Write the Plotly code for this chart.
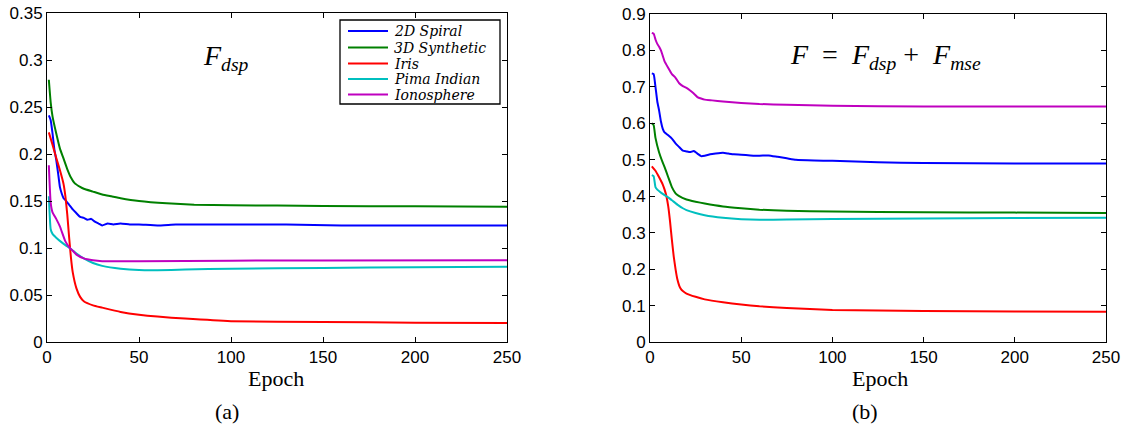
import plotly.graph_objects as go

# ---------------- Data ----------------
names = ["2D Spiral", "3D Synthetic", "Iris", "Pima Indian", "Ionosphere"]
colors = ["#0000FF", "#008000", "#FF0000", "#00BFBF", "#BF00BF"]

# Panel (a): F_dsp
a_spiral_x = [1, 2, 3, 4, 5, 6, 7, 8, 9, 10, 12, 14, 16, 18, 20, 22, 24, 26, 28, 30, 33, 36, 40, 45, 50, 60, 70, 80, 100, 130, 160, 200, 250]
a_spiral_y = [0.241, 0.236, 0.222, 0.205, 0.194, 0.180, 0.165, 0.158, 0.153, 0.151, 0.146, 0.141, 0.137, 0.133, 0.132, 0.130, 0.131, 0.128, 0.126, 0.124, 0.126, 0.125, 0.126, 0.125, 0.125, 0.124, 0.125, 0.125, 0.125, 0.125, 0.124, 0.124, 0.124]

a_synth_x = [1, 2, 3, 5, 7, 9, 11, 13, 15, 18, 20, 25, 30, 35, 40, 50, 65, 80, 100, 150, 200, 250]
a_synth_y = [0.279, 0.255, 0.240, 0.222, 0.206, 0.195, 0.184, 0.175, 0.169, 0.165, 0.163, 0.160, 0.157, 0.155, 0.153, 0.150, 0.1475, 0.146, 0.1455, 0.1448, 0.1443, 0.1439]

a_iris_x = [1, 3, 5, 7, 9, 10, 11, 12, 13, 14, 16, 18, 20, 25, 30, 40, 50, 60, 75, 100, 150, 200, 250]
a_iris_y = [0.223, 0.210, 0.196, 0.183, 0.168, 0.155, 0.136, 0.112, 0.090, 0.074, 0.057, 0.048, 0.0434, 0.039, 0.0366, 0.032, 0.029, 0.027, 0.0249, 0.0222, 0.0212, 0.0206, 0.0203]

a_pima_x = [1, 2, 3, 5, 8, 10, 13, 16, 20, 25, 30, 40, 50, 60, 75, 100, 150, 200, 250]
a_pima_y = [0.155, 0.120, 0.115, 0.111, 0.106, 0.103, 0.099, 0.094, 0.089, 0.084, 0.081, 0.078, 0.0765, 0.0763, 0.077, 0.078, 0.0788, 0.0795, 0.080]

a_iono_x = [1, 2, 3, 5, 7, 10, 12, 14, 16, 20, 25, 30, 50, 100, 150, 250]
a_iono_y = [0.188, 0.148, 0.138, 0.131, 0.123, 0.107, 0.101, 0.097, 0.093, 0.089, 0.087, 0.086, 0.086, 0.0865, 0.0868, 0.087]

# Panel (b): F = F_dsp + F_mse
b_spiral_x = [1, 2, 3, 4, 5, 6, 7, 8, 10, 12, 14, 16, 18, 20, 22, 24, 26, 28, 30, 33, 36, 40, 43, 46, 50, 55, 60, 65, 70, 75, 80, 90, 100, 125, 150, 200, 250]
b_spiral_y = [0.737, 0.735, 0.700, 0.660, 0.635, 0.605, 0.585, 0.575, 0.567, 0.558, 0.545, 0.535, 0.525, 0.523, 0.521, 0.524, 0.517, 0.510, 0.511, 0.515, 0.517, 0.519, 0.517, 0.515, 0.514, 0.512, 0.511, 0.512, 0.508, 0.504, 0.500, 0.498, 0.497, 0.493, 0.491, 0.490, 0.490]

b_synth_x = [1, 2, 3, 5, 7, 8, 10, 12, 14, 16, 20, 25, 30, 40, 50, 60, 75, 100, 150, 200, 250]
b_synth_y = [0.600, 0.595, 0.560, 0.520, 0.492, 0.480, 0.452, 0.425, 0.408, 0.400, 0.391, 0.385, 0.380, 0.372, 0.367, 0.363, 0.360, 0.358, 0.356, 0.355, 0.354]

b_iris_x = [1, 3, 5, 7, 8, 9, 10, 11, 12, 13, 14, 15, 16, 17, 18, 20, 25, 30, 40, 50, 60, 75, 100, 150, 200, 250]
b_iris_y = [0.482, 0.470, 0.452, 0.432, 0.418, 0.400, 0.372, 0.330, 0.280, 0.235, 0.200, 0.172, 0.155, 0.145, 0.140, 0.133, 0.124, 0.117, 0.109, 0.103, 0.098, 0.093, 0.088, 0.085, 0.0835, 0.083]

b_pima_x = [1, 2, 3, 4, 6, 8, 10, 12, 15, 18, 20, 25, 30, 40, 50, 60, 75, 100, 150, 200, 250]
b_pima_y = [0.458, 0.455, 0.425, 0.418, 0.410, 0.403, 0.397, 0.389, 0.377, 0.367, 0.362, 0.354, 0.348, 0.341, 0.337, 0.3355, 0.336, 0.3375, 0.339, 0.340, 0.341]

b_iono_x = [1, 2, 3, 4, 5, 6, 7, 8, 10, 12, 14, 16, 18, 20, 22, 24, 26, 28, 30, 34, 40, 50, 60, 75, 100, 150, 200, 250]
b_iono_y = [0.848, 0.846, 0.830, 0.818, 0.810, 0.800, 0.785, 0.770, 0.752, 0.735, 0.725, 0.710, 0.702, 0.697, 0.690, 0.682, 0.672, 0.668, 0.665, 0.663, 0.660, 0.656, 0.653, 0.651, 0.648, 0.646, 0.646, 0.646]

x_ticks = [0, 50, 100, 150, 200, 250]
a_y_ticks = [0, 0.05, 0.1, 0.15, 0.2, 0.25, 0.3, 0.35]
b_y_ticks = [0, 0.1, 0.2, 0.3, 0.4, 0.5, 0.6, 0.7, 0.8, 0.9]

# ---------------- Figure ----------------
W, H = 1128, 435
SERIF = "Liberation Serif, Times New Roman, serif"
LEG_SERIF = "DejaVu Serif, Liberation Serif, serif"
SANS = "Liberation Sans, Arial, sans-serif"

fig = go.Figure()

a_data = [(a_spiral_x, a_spiral_y), (a_synth_x, a_synth_y), (a_iris_x, a_iris_y),
          (a_pima_x, a_pima_y), (a_iono_x, a_iono_y)]
b_data = [(b_spiral_x, b_spiral_y), (b_synth_x, b_synth_y), (b_iris_x, b_iris_y),
          (b_pima_x, b_pima_y), (b_iono_x, b_iono_y)]

for (xs, ys), nm, c in zip(a_data, names, colors):
    fig.add_trace(go.Scatter(x=xs, y=ys, mode="lines", name=nm,
                             line=dict(color=c, width=2, shape="spline", smoothing=0.4),
                             xaxis="x", yaxis="y", showlegend=False))
for (xs, ys), nm, c in zip(b_data, names, colors):
    fig.add_trace(go.Scatter(x=xs, y=ys, mode="lines", name=nm,
                             line=dict(color=c, width=2, shape="spline", smoothing=0.4),
                             xaxis="x2", yaxis="y2", showlegend=False))

axis_common = dict(showline=True, linecolor="black", linewidth=1, mirror="ticks",
                   ticks="inside", ticklen=5, tickcolor="black", showgrid=False,
                   zeroline=False, automargin=False,
                   tickfont=dict(family=SANS, size=17, color="black"))

fig.update_layout(
    template="none",
    width=W, height=H,
    margin=dict(l=0, r=0, t=0, b=0, autoexpand=False),
    paper_bgcolor="white", plot_bgcolor="white",
    xaxis=dict(domain=[47 / W, 507 / W], range=[0, 250], tickvals=x_ticks,
               anchor="y", **axis_common),
    yaxis=dict(domain=[1 - 342 / H, 1 - 13 / H], range=[0, 0.35], tickvals=a_y_ticks,
               ticktext=[("%g" % v) for v in a_y_ticks], anchor="x", **axis_common),
    xaxis2=dict(domain=[650 / W, 1106 / W], range=[0, 250], tickvals=x_ticks,
                anchor="y2", **axis_common),
    yaxis2=dict(domain=[1 - 342 / H, 1 - 14 / H], range=[0, 0.9], tickvals=b_y_ticks,
                ticktext=[("%g" % v) for v in b_y_ticks], anchor="x2", **axis_common),
    showlegend=False,
)

def ann(text, xpx, ypx, size, xanchor="center", family=SERIF):
    fig.add_annotation(text=text, x=xpx / W, y=1 - ypx / H, xref="paper", yref="paper",
                       xanchor=xanchor, yanchor="middle", showarrow=False,
                       font=dict(family=family, size=size, color="black"))

# Legend box drawn in paper space (legend of panel (a))
lg_left, lg_right, lg_top, lg_bottom = 340, 500, 20, 104
fig.add_shape(type="rect", xref="paper", yref="paper",
              x0=lg_left / W, x1=lg_right / W, y0=1 - lg_bottom / H, y1=1 - lg_top / H,
              line=dict(color="black", width=1.3), fillcolor="white", layer="above")
row_y = [31, 47.5, 63.5, 79, 94.5]
for nm, c, ry in zip(names, colors, row_y):
    fig.add_shape(type="line", xref="paper", yref="paper",
                  x0=348 / W, x1=388 / W, y0=1 - ry / H, y1=1 - ry / H,
                  line=dict(color=c, width=2), layer="above")
    ann("<i>" + nm + "</i>", 392, ry, 14, xanchor="left", family=LEG_SERIF)

ann("<i>F</i><sub><i>dsp</i></sub>", 226, 58, 28)
ann("<i>F</i>&nbsp;&nbsp;=&nbsp;&nbsp;<i>F</i><sub><i>dsp</i></sub>&nbsp;+&nbsp;&nbsp;<i>F</i><sub><i>mse</i></sub>", 885, 56, 28)
ann("Epoch", 276, 378, 22)
ann("Epoch", 880, 378, 22)
ann("(a)", 227, 411, 22)
ann("(b)", 865, 411, 22)

fig.write_html("out.html")
